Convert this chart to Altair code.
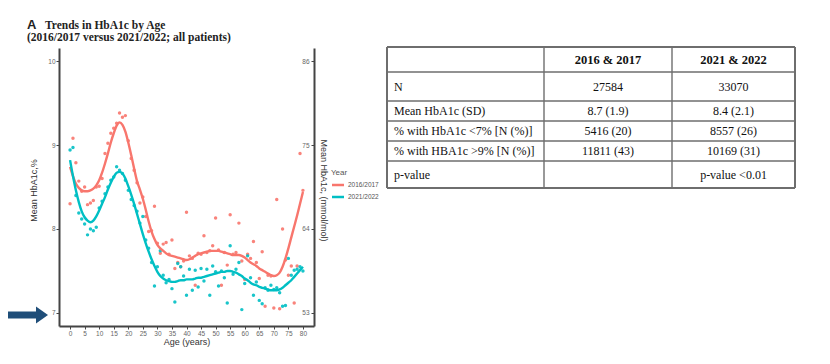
import altair as alt
import pandas as pd

# ---------------- data ----------------
ages = list(range(0, 81))
series = ["2016/2017", "2021/2022"]
colors = ["#F8766D", "#00BFC4"]
legend_title = "Year"

red_pts = [8.30, 9.08, 8.79, 8.57, 8.45, 8.50, 8.29, 8.31, 8.34, 8.50,
           8.51, 8.60, 8.90, 9.02, 9.14, 9.20, 9.26, 9.38, 9.33, 9.35,
           9.05, 8.84, 8.70, 8.55, 8.31, 8.38, 8.15, 7.97, 7.98, 8.27,
           7.83, 7.71, 7.82, 7.84, 7.70, 7.87, 7.53, 7.60, 7.55, 7.62,
           8.20, 7.68, 7.65, 7.33, 7.71, 7.70, 7.92, 7.72, 7.74, 7.80,
           8.13, 7.75, 7.33, 7.72, 7.57, 8.17, 7.70, 7.72, 8.07, 7.62,
           7.40, 7.70, 7.65, 7.85, 7.60, 7.41, 7.73, 7.08, 7.45, 7.44,
           7.06, 8.35, 7.05, 8.00, 7.63, 7.45, 7.56, 7.12, 7.56, 8.90, 8.46]
teal_pts = [8.94, 8.97, 8.40, 8.19, 8.12, 8.06, 7.93, 8.00, 7.98, 8.02,
            8.25, 8.33, 8.42, 8.50, 8.58, 8.62, 8.74, 8.70, 8.66, 8.58,
            8.46, 8.35, 8.28, 8.21, 8.07, 8.15, 7.87, 7.77, 7.60, 7.32,
            7.55, 7.74, 7.45, 7.36, 7.40, 7.29, 7.13, 7.59, 7.55, 7.44,
            7.21, 7.52, 7.27, 7.51, 7.31, 7.53, 7.38, 7.52, 7.21, 7.56,
            7.49, 7.32, 7.50, 7.42, 7.12, 7.80, 7.46, 7.52, 7.60, 7.04,
            7.35, 7.68, 7.42, 7.21, 7.37, 7.15, 7.11, 7.30, 7.27, 7.33,
            7.28, 7.30, 7.24, 7.08, 7.09, 7.65, 7.45, 7.51, 7.52, 7.55, 7.50]
red_curve = [8.74, 8.63, 8.54, 8.49, 8.46, 8.45, 8.45, 8.46, 8.48, 8.52,
             8.58, 8.67, 8.78, 8.90, 9.03, 9.14, 9.23, 9.27, 9.24, 9.16,
             9.03, 8.88, 8.72, 8.57, 8.47, 8.36, 8.23, 8.09, 7.97, 7.88,
             7.81, 7.77, 7.74, 7.71, 7.69, 7.68, 7.67, 7.66, 7.65, 7.64,
             7.63, 7.64, 7.66, 7.68, 7.70, 7.71, 7.72, 7.73, 7.74, 7.74,
             7.74, 7.74, 7.73, 7.72, 7.71, 7.70, 7.69, 7.69, 7.69, 7.68,
             7.66, 7.63, 7.60, 7.58, 7.56, 7.53, 7.51, 7.49, 7.47, 7.45,
             7.44, 7.45, 7.48, 7.55, 7.65, 7.77, 7.90, 8.03, 8.16, 8.30, 8.44]
teal_curve = [8.82, 8.63, 8.46, 8.32, 8.21, 8.14, 8.10, 8.08, 8.10, 8.15,
              8.22, 8.30, 8.38, 8.47, 8.55, 8.62, 8.67, 8.68, 8.66, 8.60,
              8.51, 8.41, 8.30, 8.18, 8.06, 7.94, 7.83, 7.73, 7.64, 7.56,
              7.49, 7.44, 7.41, 7.39, 7.38, 7.37, 7.37, 7.38, 7.39, 7.39,
              7.40, 7.40, 7.40, 7.41, 7.42, 7.42, 7.43, 7.44, 7.45, 7.46,
              7.47, 7.48, 7.49, 7.49, 7.50, 7.50, 7.49, 7.48, 7.46, 7.44,
              7.41, 7.39, 7.36, 7.34, 7.33, 7.31, 7.30, 7.29, 7.28, 7.27,
              7.27, 7.27, 7.28, 7.30, 7.33, 7.36, 7.39, 7.43, 7.47, 7.51, 7.55]

x_ticks = list(range(0, 81, 5))
pct_ticks = [7, 8, 9, 10]
mmol_ticks = [53, 64, 75, 86]

title_letter = "A"
title_text = "Trends in HbA1c by Age"
subtitle_text = "(2016/2017 versus 2021/2022; all patients)"

table_header = ["", "2016 & 2017", "2021 & 2022"]
table_rows = [
    ["N", "27584", "33070"],
    ["Mean HbA1c (SD)", "8.7 (1.9)", "8.4 (2.1)"],
    ["% with HbA1c <7% [N (%)]", "5416 (20)", "8557 (26)"],
    ["% with HBA1c >9% [N (%)]", "11811 (43)", "10169 (31)"],
    ["p-value", "", "p-value <0.01"],
]

# ---------------- layout (pixels) ----------------
PL, PT = 59, 48          # plot origin on the page
W, H = 255, 278          # plot area
X_DOM = [-3.8, 83.8]
Y_DOM = [6.845, 10.155]
col_edges = [e - PL for e in [387, 544, 672, 795]]
row_edges = [e - PT for e in [47, 72, 101, 121, 141, 161, 188]]
LEG_X, LEG_Y, LEG_ROW = 331 - PL, 173 - PT, 12
GRID = "#6e6e6e"
SERIF = "Liberation Serif"
SANS = "Liberation Sans"

# ---------------- frames ----------------
pts_df = pd.DataFrame({
    "age": ages * 2,
    "value": red_pts + teal_pts,
    "grp": [series[0]] * len(ages) + [series[1]] * len(ages),
})
curve_df = pd.DataFrame({
    "age": ages * 2,
    "value": red_curve + teal_curve,
    "series": [series[0]] * len(ages) + [series[1]] * len(ages),
})

xs = alt.Scale(domain=X_DOM, nice=False, zero=False)
ys = alt.Scale(domain=Y_DOM, nice=False, zero=False)
x_axis = alt.Axis(values=x_ticks, title="Age (years)", labelPadding=1,
                  titleY=11, titleBaseline="top")
series_scale = alt.Scale(domain=series, range=colors)

points = alt.Chart(pts_df).mark_circle(size=12, opacity=0.9).encode(
    x=alt.X("age:Q", scale=xs, axis=x_axis),
    y=alt.Y("value:Q", scale=ys, axis=None),
    fill=alt.Fill("grp:N", scale=series_scale, legend=None),
)

lines = alt.Chart(curve_df).mark_line(strokeWidth=2.4, interpolate="monotone").encode(
    x=alt.X("age:Q", scale=xs, axis=x_axis),
    y=alt.Y("value:Q", scale=ys,
            axis=alt.Axis(values=pct_ticks, title="Mean HbA1c,%", labelPadding=1,
                          titleX=-26, titleY=142, titleAngle=270,
                          titleBaseline="middle", titleAlign="center")),
    stroke=alt.Stroke("series:N", scale=series_scale, legend=None),
)

label_expr = " : ".join(
    f"datum.value == {p} ? '{m}'" for p, m in zip(pct_ticks, mmol_ticks)) + " : ''"

right_axis = alt.Chart(curve_df).mark_point(opacity=0).encode(
    x=alt.X("age:Q", scale=xs, axis=x_axis),
    y=alt.Y("value:Q", scale=ys,
            axis=alt.Axis(orient="left", offset=-W, values=pct_ticks, labelExpr=label_expr,
                          labelPadding=2, title="Mean HbA1c, (mmol/mol)",
                          titleX=9, titleY=142, titleAngle=90,
                          titleBaseline="middle", titleAlign="center")),
)

plot = alt.layer(points, lines, right_axis).resolve_scale(y="independent")


# ---------------- pixel-positioned helpers ----------------
def px_x(f):
    return alt.X(f + ":Q", scale=alt.Scale(domain=[0, W], range=[0, W], nice=False, zero=False), axis=None)


def px_y(f):
    return alt.Y(f + ":Q", scale=alt.Scale(domain=[0, H], range=[0, H], nice=False, zero=False), axis=None)


# legend (drawn by hand)
leg_df = pd.DataFrame({
    "x": [LEG_X + 1] * len(series),
    "x2": [LEG_X + 13] * len(series),
    "tx": [LEG_X + 17] * len(series),
    "y": [LEG_Y + LEG_ROW * (i + 1) for i in range(len(series))],
    "series": series,
})
leg_lines = alt.Chart(leg_df).mark_rule(strokeWidth=2.5).encode(
    x=px_x("x"), x2="x2:Q", y=px_y("y"),
    stroke=alt.Stroke("series:N", scale=series_scale, legend=None),
)
leg_labels = alt.Chart(leg_df).mark_text(font=SANS, fontSize=6.5, color="#555",
                                         align="left", baseline="middle").encode(
    x=px_x("tx"), y=px_y("y"), text="series:N")
leg_title = alt.Chart(pd.DataFrame({"t": [legend_title]})).mark_text(
    font=SANS, fontSize=8, color="#555", align="left", baseline="middle"
).encode(x=alt.value(LEG_X), y=alt.value(LEG_Y), text="t:N")

# table
rules = []
for i, ry in enumerate(row_edges):
    outer = i in (0, len(row_edges) - 1)
    rules.append({"x": col_edges[0], "x2": col_edges[-1], "y": ry, "y2": ry, "w": 2.0 if outer else 1.4})
for j, cx in enumerate(col_edges):
    outer = j in (0, len(col_edges) - 1)
    rules.append({"x": cx, "x2": cx, "y": row_edges[0], "y2": row_edges[-1], "w": 2.0 if outer else 1.4})
rules_df = pd.DataFrame(rules)

table_grid = alt.Chart(rules_df).mark_rule(color=GRID).encode(
    x=px_x("x"), x2="x2:Q", y=px_y("y"), y2="y2:Q",
    strokeWidth=alt.StrokeWidth("w:Q", scale=None),
)

col_centers = [(col_edges[k] + col_edges[k + 1]) / 2 for k in range(len(col_edges) - 1)]
row_centers = [(row_edges[k] + row_edges[k + 1]) / 2 for k in range(len(row_edges) - 1)]

head_df = pd.DataFrame({
    "x": col_centers[1:], "y": [row_centers[0]] * 2, "t": table_header[1:]})
first_df = pd.DataFrame({
    "x": [col_edges[0] + 7] * len(table_rows),
    "y": row_centers[1:], "t": [r[0] for r in table_rows]})
cells = []
for i, r in enumerate(table_rows):
    for k in (1, 2):
        cells.append({"x": col_centers[k], "y": row_centers[i + 1], "t": r[k]})
cells_df = pd.DataFrame(cells)

head_text = alt.Chart(head_df).mark_text(font=SERIF, fontSize=12.5, fontWeight="bold",
                                         color="#111", align="center", baseline="middle").encode(
    x=px_x("x"), y=px_y("y"), text="t:N")
first_text = alt.Chart(first_df).mark_text(font=SERIF, fontSize=12, color="#111",
                                           align="left", baseline="middle").encode(
    x=px_x("x"), y=px_y("y"), text="t:N")
cell_text = alt.Chart(cells_df).mark_text(font=SERIF, fontSize=12, color="#111",
                                          align="center", baseline="middle").encode(
    x=px_x("x"), y=px_y("y"), text="t:N")

# ---------------- titles & arrow ----------------
t_letter = alt.Chart(pd.DataFrame({"t": [title_letter]})).mark_text(
    font=SANS, fontSize=13, fontWeight="bold", color="#222", align="left", baseline="alphabetic"
).encode(x=alt.value(-32), y=alt.value(-19), text="t:N")
t_main = alt.Chart(pd.DataFrame({"t": [title_text]})).mark_text(
    font=SERIF, fontSize=11.5, fontWeight="bold", color="#222", align="left", baseline="alphabetic"
).encode(x=alt.value(-14), y=alt.value(-19), text="t:N")
t_sub = alt.Chart(pd.DataFrame({"t": [subtitle_text]})).mark_text(
    font=SERIF, fontSize=11.5, fontWeight="bold", color="#222", align="left", baseline="alphabetic"
).encode(x=alt.value(-32), y=alt.value(-7), text="t:N")

ARROW = "#1F4E79"
arrow_shaft = alt.Chart(pd.DataFrame({"a": [0]})).mark_rule(color=ARROW, strokeWidth=7).encode(
    x=alt.value(-51), x2=alt.value(-19), y=alt.value(267))
arrow_head = alt.Chart(pd.DataFrame({"a": [0]})).mark_point(
    shape="M-1,-1.4L1,0L-1,1.4Z", filled=True, size=144, color=ARROW, opacity=1
).encode(x=alt.value(-17), y=alt.value(267))

chart = alt.layer(
    plot, leg_lines, leg_labels, leg_title,
    table_grid, head_text, first_text, cell_text,
    t_letter, t_main, t_sub, arrow_shaft, arrow_head,
).resolve_scale(x="independent", y="independent").properties(
    width=W, height=H,
    autosize=alt.AutoSizeParams(type="none"),
    padding={"left": PL - 8, "top": PT - 8, "right": 500, "bottom": 22},
).configure_view(stroke=None).configure_axis(
    domainColor="#444", domainWidth=2, tickColor="#444", tickSize=3, tickWidth=1,
    labelFontSize=6.5, labelColor="#666", labelFont=SANS,
    titleFont=SANS, titleFontSize=9, titleFontWeight="normal", titleColor="#333", grid=False,
)

chart.save("out.html", embed_options={"renderer": "svg", "actions": False})
